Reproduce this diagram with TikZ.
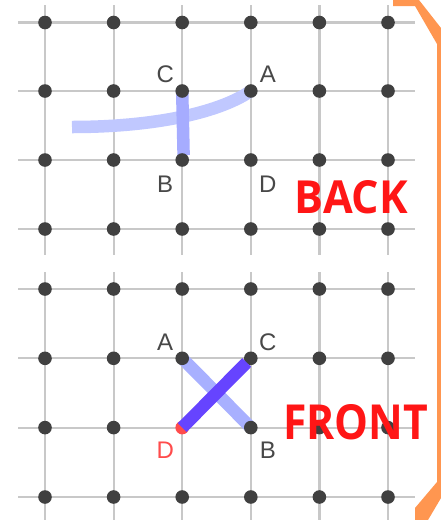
\documentclass[tikz,border=0pt]{standalone}
\usepackage{fontspec}
\setmainfont{Liberation Sans}
\newfontfamily\titlefont{Open Sans}
\usetikzlibrary{calc}
\definecolor{gridl}{RGB}{200,200,200}
\definecolor{dotc}{RGB}{64,64,64}
\definecolor{labc}{RGB}{72,72,72}
\definecolor{redt}{RGB}{255,22,22}
\definecolor{redd}{RGB}{255,76,76}
\definecolor{orangef}{RGB}{255,150,80}
\definecolor{bandlight}{RGB}{192,200,255}
\definecolor{bandmid}{RGB}{166,172,255}
\definecolor{bandfront}{RGB}{168,176,255}
\definecolor{banddark}{RGB}{102,68,255}
\tikzset{
  gridline/.style={draw=gridl, line width=2.2pt},
  dotstyle/.style={fill=dotc},
  lab/.style={inner sep=0pt, text=labc, font=\fontsize{24}{24}\selectfont},
  bigword/.style={inner sep=0pt, text=redt, font=\titlefont\bfseries},
  band/.style={line width=12.5pt}
}
\begin{document}
\begin{tikzpicture}[x=1pt,y=-1pt]
\useasboundingbox (0,0) rectangle (441,520);
\fill[white] (0,0) rectangle (441,520);
% orange frame corner
\fill[orangef] (393,0) -- (419,0) -- (441,28) -- (441,498) -- (428,520) -- (415,520) -- (415,508) -- (437,482) -- (437,44) -- (415,6) -- (393,6) -- cycle;
% grid lines
\foreach \c in {45,113.6,182.2,250.8,319.4,388} {
  \draw[gridline] (\c,5) -- (\c,255);
  \draw[gridline] (\c,272) -- (\c,520);
}
\foreach \r in {22.5,91,160,229,289,358.3,427.6,497}
  \draw[gridline] (18,\r) -- (415,\r);
% grid coordinates
\foreach \c [count=\i] in {45,113.6,182.2,250.8,319.4,388} {
  \foreach \r [count=\j] in {22.5,91,160,229}
    \coordinate (t-\i-\j) at (\c,\r);
  \foreach \r [count=\j] in {289,358.3,427.6,497}
    \coordinate (f-\i-\j) at (\c,\r);
}
% BACK strokes
\coordinate (curvestart) at (72,127);
\coordinate (vend) at (183.6,155);
\draw[band, bandlight] (curvestart) .. controls (150,127) and (217,114) .. (t-4-2);
\draw[band, bandmid] (t-3-2) -- (vend);
% FRONT light stroke
\draw[band, bandfront] (f-3-2) -- (f-4-3);
% dots
\foreach \i in {1,...,6} {
  \foreach \j in {1,...,4} {
    \fill[dotstyle] (t-\i-\j) circle (6.8);
  }
  \foreach \j in {1,2,4} {
    \fill[dotstyle] (f-\i-\j) circle (6.8);
  }
}
\foreach \i in {1,2,4,5,6}
  \fill[dotstyle] (f-\i-3) circle (6.8);
\fill[redd] (f-3-3) circle (6.8);
% FRONT dark stroke
\draw[band, banddark] (f-3-3) -- ($(f-3-3)!0.94!(f-4-2)$);
% labels BACK
\node[lab] (tC) at ($(t-3-2)+(-17,-17)$) {C};
\node[lab] (tA) at ($(t-4-2)+(17,-17)$) {A};
\node[lab] (tB) at ($(t-3-3)+(-17,24)$) {B};
\node[lab] (tD) at ($(t-4-3)+(17,24)$) {D};
% labels FRONT
\node[lab] (fA) at ($(f-3-2)+(-17,-16)$) {A};
\node[lab] (fC) at ($(f-4-2)+(17,-16)$) {C};
\node[lab, text=redd] (fD) at ($(f-3-3)+(-17,22.5)$) {D};
\node[lab] (fB) at ($(f-4-3)+(17,22.5)$) {B};
% titles
\node[bigword] (back) at (351.5,197) {\resizebox{113pt}{33pt}{BACK}};
\node[bigword] (front) at (355.5,422.5) {\resizebox{145pt}{35pt}{FRONT}};
\end{tikzpicture}
\end{document}
